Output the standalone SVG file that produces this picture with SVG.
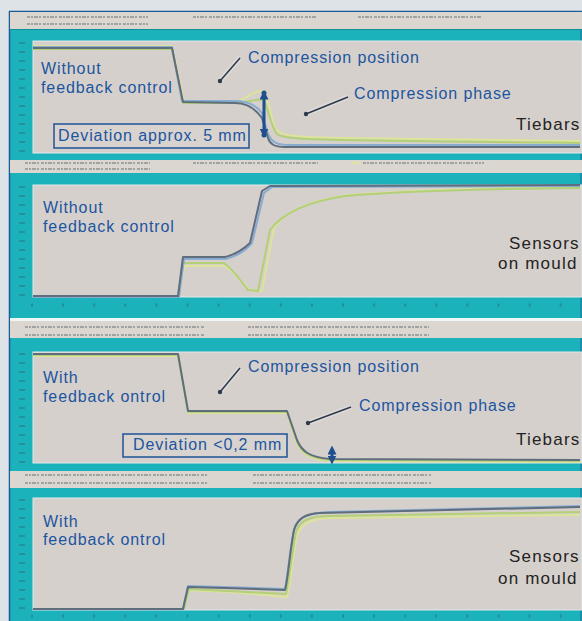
<svg xmlns="http://www.w3.org/2000/svg" width="582" height="621" viewBox="0 0 582 621">
<style>
.teal{fill:#1cb2bc}
.leg{fill:#dbd7d0}
.plot{fill:#d6d0cc;stroke:#e2e8e8;stroke-width:1}
.legtxt{stroke:#8b9494;stroke-width:2;stroke-dasharray:3 1 2 1 4 1 2 2;opacity:0.75}
.ytick{stroke:#2b7d86;stroke-width:6;stroke-dasharray:2 7;opacity:0.6}
.xtick{stroke:#2b7d86;stroke-width:3;stroke-dasharray:2 29.1;opacity:0.7}
.c{fill:none;stroke-width:2;stroke-linejoin:round}
.dk{stroke:#5f6d7d}
.bl{stroke:#87acd0}
.yl{stroke:#dde39a}
.gr{stroke:#b3cf78}
.lbl{font-family:"Liberation Sans",Arial,sans-serif;font-size:16px;letter-spacing:0.9px;fill:#1c55a0}
.blk{font-family:"Liberation Sans",Arial,sans-serif;font-size:17px;letter-spacing:1.2px;fill:#232323}
.box{fill:#d8d3cf;stroke:#1f5296;stroke-width:1.5}
.halo{stroke:#f2f2f2;stroke-width:5;opacity:0.35;fill:none}
.ptr{stroke:#2e3b4d;stroke-width:1.6;fill:none}
.dev{stroke:#1f4f8e;stroke-width:3;fill:none}
</style>
<defs>
<marker id="ah" viewBox="0 0 10 10" refX="5" refY="5" markerWidth="3" markerHeight="3" orient="auto-start-reverse">
<path d="M0,0 L10,5 L0,10 z" fill="#1f4f8e"/>
</marker>
</defs>
<rect width="582" height="621" fill="#dde3e6"/>
<!-- screenshot frame -->
<g id="frame">
<rect x="9" y="11" width="573" height="610" class="teal"/>
<line x1="9" y1="11.5" x2="582" y2="11.5" stroke="#1a5a96" stroke-width="1.5"/>
<line x1="9.5" y1="11" x2="9.5" y2="621" stroke="#1a5a96" stroke-width="1.5"/>
<line x1="581" y1="11" x2="581" y2="621" stroke="#1a6a9a" stroke-width="1"/>
</g>
<!-- panel 1 -->
<g id="panel1">
<rect x="10" y="12" width="572" height="17" class="leg"/>
<line x1="27" y1="17" x2="148" y2="17" class="legtxt"/>
<line x1="27" y1="24" x2="148" y2="24" class="legtxt"/>
<line x1="193" y1="17" x2="316" y2="17" class="legtxt"/>
<line x1="358" y1="17" x2="481" y2="17" class="legtxt"/>
<line x1="10" y1="29.5" x2="582" y2="29.5" stroke="#0f8f98" stroke-width="1"/>
<rect x="33" y="41" width="549" height="112" class="plot"/>
<line x1="22" y1="42" x2="22" y2="153" class="ytick"/>
<path class="c yl" d="M33,46 L172,46 L184,101 L238,101 C248,98 255,90 262,91 C268,92 270,115 275,128 C280,137 300,137 340,138 L580,141"/>
<path class="c gr" d="M33,49 L172,49 L183,103 L238,103 C250,102 258,98 263,100 C268,105 270,125 277,134 C285,140 310,140 580,143"/>
<path class="c bl" d="M33,47 L172,47 L182,101 L235,101 C248,101 256,105 262,113 L268,134 C272,143 278,145 290,145 L580,145"/>
<path class="c dk" d="M33,48 L172,48 L183,102 L235,103 C245,103 255,108 262,118 L268,138 C270,144 274,147 285,147 L580,147"/>
<line x1="264" y1="95" x2="264" y2="133" class="dev" marker-start="url(#ah)" marker-end="url(#ah)"/>
<circle cx="264" cy="93" r="2.5" fill="#1f4f8e"/>
<circle cx="264" cy="135" r="2.5" fill="#1f4f8e"/>
<path class="halo" d="M240,58 L220,81"/>
<path class="ptr" d="M240,58 L220,81"/>
<circle cx="220" cy="81" r="2.2" fill="#2e3b4d"/>
<path class="halo" d="M348,97 L306,114"/>
<path class="ptr" d="M348,97 L306,114"/>
<circle cx="306" cy="114" r="2.2" fill="#2e3b4d"/>
<text class="lbl" x="41" y="74">Without</text>
<text class="lbl" x="41" y="93">feedback control</text>
<text class="lbl" x="248" y="63">Compression position</text>
<text class="lbl" x="354" y="99">Compression phase</text>
<text class="blk" x="516" y="130">Tiebars</text>
<rect x="54" y="124" width="195" height="24" class="box"/>
<text class="lbl" x="58" y="141">Deviation approx. 5 mm</text>
</g>
<!-- panel 2 -->
<g id="panel2">
<rect x="10" y="160" width="572" height="13" class="leg"/>
<line x1="25" y1="163" x2="150" y2="163" class="legtxt"/>
<line x1="25" y1="169" x2="150" y2="169" class="legtxt"/>
<line x1="193" y1="163" x2="318" y2="163" class="legtxt"/>
<line x1="352" y1="163" x2="360" y2="163" stroke="#e0e49a" stroke-width="2"/>
<line x1="363" y1="163" x2="484" y2="163" class="legtxt"/>
<rect x="33" y="185" width="549" height="112" class="plot"/>
<line x1="22" y1="186" x2="22" y2="297" class="ytick"/>
<line x1="31" y1="305" x2="582" y2="305" class="xtick"/>
<path class="c yl" d="M33,296 L179,296 L184,266 L225,266 C235,272 243,285 250,290 L262,291 L274,228 C285,212 310,200 350,195 C400,191 480,188 580,187"/>
<path class="c gr" d="M33,296 L178,296 L183,263 L224,263 C234,270 242,283 248,290 L258,291 L270,230 C282,214 305,202 345,196 C400,191 480,189 580,188"/>
<path class="c bl" d="M33,297 L179,297 L184,259 L226,259 C238,256 246,250 252,243 L264,193 L272,187 L580,186"/>
<path class="c dk" d="M33,296 L178,296 L183,257 L225,257 C235,255 245,248 250,243 L262,191 L270,186 L580,185"/>
<text class="lbl" x="43" y="213">Without</text>
<text class="lbl" x="43" y="232">feedback control</text>
<text class="blk" x="509" y="249">Sensors</text>
<text class="blk" x="498" y="269">on mould</text>
</g>
<!-- panel 3 -->
<g id="panel3">
<rect x="10" y="318" width="572" height="3" fill="#eef6f6"/>
<rect x="10" y="321" width="572" height="17" class="leg"/>
<line x1="25" y1="327" x2="205" y2="327" class="legtxt"/>
<line x1="25" y1="335" x2="205" y2="335" class="legtxt"/>
<line x1="248" y1="327" x2="429" y2="327" class="legtxt"/>
<line x1="248" y1="335" x2="429" y2="335" class="legtxt"/>
<rect x="33" y="352" width="549" height="111" class="plot"/>
<line x1="22" y1="353" x2="22" y2="463" class="ytick"/>
<path class="c yl" d="M33,356 L178,356 L188,413 L287,413 L297,443 C302,455 312,459 330,461 L580,462"/>
<path class="c gr" d="M33,355 L178,355 L188,412 L287,412 L297,442 C302,454 312,458 330,460 L580,461"/>
<path class="c dk" d="M33,354 L178,354 L188,411 L287,411 L297,440 C302,452 310,457 330,459 L580,460"/>
<line x1="332" y1="450" x2="332" y2="460" class="dev" stroke-width="2.5" marker-start="url(#ah)" marker-end="url(#ah)"/>
<path class="halo" d="M240,368 L220,392"/>
<path class="ptr" d="M240,368 L220,392"/>
<circle cx="220" cy="392" r="2.2" fill="#2e3b4d"/>
<path class="halo" d="M351,407 L308,423"/>
<path class="ptr" d="M351,407 L308,423"/>
<circle cx="308" cy="423" r="2.2" fill="#2e3b4d"/>
<text class="lbl" x="43" y="383">With</text>
<text class="lbl" x="43" y="402">feedback ontrol</text>
<text class="lbl" x="248" y="372">Compression position</text>
<text class="lbl" x="359" y="411">Compression phase</text>
<text class="blk" x="516" y="445">Tiebars</text>
<rect x="123" y="434" width="164" height="23" class="box"/>
<text class="lbl" x="133" y="450">Deviation &lt;0,2 mm</text>
</g>
<!-- panel 4 -->
<g id="panel4">
<rect x="10" y="471" width="572" height="17" class="leg"/>
<line x1="25" y1="475" x2="207" y2="475" class="legtxt"/>
<line x1="25" y1="483" x2="207" y2="483" class="legtxt"/>
<line x1="253" y1="475" x2="431" y2="475" class="legtxt"/>
<line x1="253" y1="483" x2="431" y2="483" class="legtxt"/>
<rect x="33" y="498" width="549" height="112" class="plot"/>
<line x1="22" y1="499" x2="22" y2="610" class="ytick"/>
<line x1="31" y1="616" x2="582" y2="616" class="xtick"/>
<path class="c yl" d="M33,609 L184,609 L189,590 L230,592 L287,597 C290,585 293,555 297,535 C302,522 312,519 330,518 L580,515"/>
<path class="c gr" d="M33,609 L184,609 L189,589 L286,594 C289,582 292,552 296,532 C300,520 310,516 330,516 L580,512"/>
<path class="c bl" d="M33,609 L183,609 L188,586 L285,589 C288,575 290,545 295,526 C300,516 310,513 330,512 L580,506"/>
<path class="c dk" d="M33,609 L183,609 L188,587 L225,588 L285,590 C288,580 290,550 294,530 C298,518 305,514 320,513 L580,507"/>
<text class="lbl" x="43" y="527">With</text>
<text class="lbl" x="43" y="545">feedback ontrol</text>
<text class="blk" x="509" y="562">Sensors</text>
<text class="blk" x="498" y="584">on mould</text>
</g>
</svg>
